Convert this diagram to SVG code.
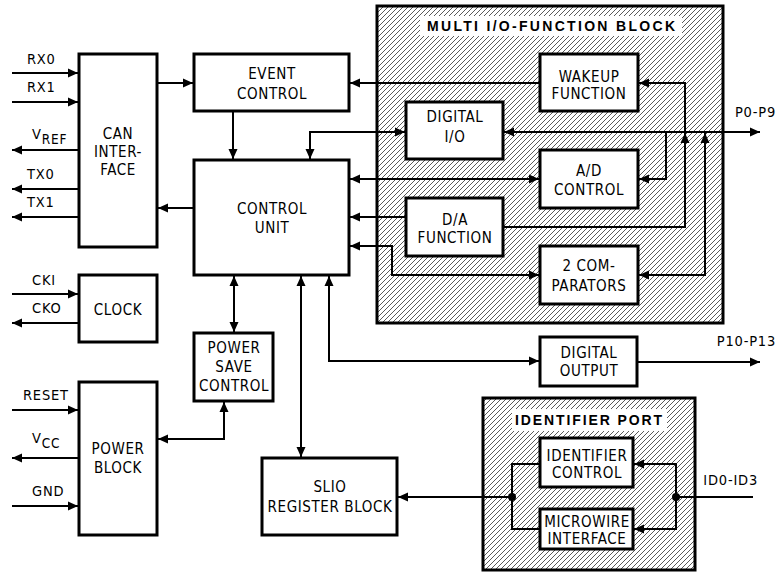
<svg xmlns="http://www.w3.org/2000/svg" width="778" height="574" viewBox="0 0 778 574">
<style>
.b{fill:#fff;stroke:#000;stroke-width:3}
.hb{fill:url(#hatch);stroke:#000;stroke-width:3}
.c{fill:none;stroke:#000;stroke-width:2}
.t{font-family:"Liberation Sans Narrow","DejaVu Sans Condensed","Liberation Sans",sans-serif;font-size:15px;text-anchor:middle;fill:#000;letter-spacing:0.6px}
.p{font-family:"Liberation Sans Narrow","DejaVu Sans Condensed","Liberation Sans",sans-serif;font-size:14.5px;fill:#000;letter-spacing:0.8px}
.ti{font-family:"Liberation Sans","Arial",sans-serif;font-size:14px;font-weight:bold;text-anchor:middle;fill:#000}
</style>
<defs>
<pattern id="hatch" width="5" height="5" patternUnits="userSpaceOnUse">
<rect width="5" height="5" fill="#fff"/>
<path d="M-1,1 L1,-1 M0,5 L5,0 M4,6 L6,4" stroke="#000" stroke-width="0.65"/>
</pattern>
<marker id="a" markerUnits="userSpaceOnUse" markerWidth="10" markerHeight="10" viewBox="0 0 10 10" refX="10" refY="5" orient="auto-start-reverse">
<path d="M0,0.5 L10,5 L0,9.5 z" fill="#000"/>
</marker>
</defs>

<g id="multi-io-block">
<rect class="hb" x="377" y="6" width="346" height="317"/>
<rect x="420" y="16" width="262" height="20" fill="#fff"/>
<text class="ti" x="551" y="31" textLength="248" lengthAdjust="spacing">MULTI I/O-FUNCTION BLOCK</text>
</g>
<g id="identifier-port">
<rect class="hb" x="483" y="398" width="212" height="172"/>
<rect x="512" y="409" width="155" height="22" fill="#fff"/>
<text class="ti" x="588.5" y="425" textLength="147" lengthAdjust="spacing">IDENTIFIER PORT</text>
</g>

<g id="connectors" class="c">
<path d="M12,73 H78" marker-end="url(#a)"/>
<path d="M12,102 H78" marker-end="url(#a)"/>
<path d="M79,150 H12" marker-end="url(#a)"/>
<path d="M79,189 H12" marker-end="url(#a)"/>
<path d="M79,217 H12" marker-end="url(#a)"/>
<path d="M157,83 H193" marker-end="url(#a)"/>
<path d="M194,208 H158" marker-end="url(#a)"/>
<path d="M233,111 V159" marker-end="url(#a)"/>
<path d="M540,83 H350" marker-end="url(#a)"/>
<path d="M310,159 V132 H405" marker-start="url(#a)" marker-end="url(#a)"/>
<path d="M350,179 H539" marker-start="url(#a)" marker-end="url(#a)"/>
<path d="M406,217 H350" marker-end="url(#a)"/>
<path d="M350,246 H392 V275 H539" marker-start="url(#a)" marker-end="url(#a)"/>
<path d="M504,132 H760" marker-start="url(#a)" marker-end="url(#a)"/>
<path d="M666,132 V179 H639" marker-end="url(#a)"/>
<path d="M503,227 H685 V83 H639" marker-end="url(#a)"/>
<path d="M685,150 V133" marker-end="url(#a)"/>
<path d="M639,275 H705 V133" marker-start="url(#a)" marker-end="url(#a)"/>
<path d="M234,276 V332" marker-start="url(#a)" marker-end="url(#a)"/>
<path d="M224,402 V439 H158" marker-start="url(#a)" marker-end="url(#a)"/>
<path d="M301,276 V457" marker-start="url(#a)" marker-end="url(#a)"/>
<path d="M329,276 V361 H539" marker-start="url(#a)" marker-end="url(#a)"/>
<path d="M637,362 H760" marker-end="url(#a)"/>
<path d="M12,294 H78" marker-end="url(#a)"/>
<path d="M79,323 H12" marker-end="url(#a)"/>
<path d="M12,410 H78" marker-end="url(#a)"/>
<path d="M79,458 H12" marker-end="url(#a)"/>
<path d="M12,506 H78" marker-end="url(#a)"/>
<path d="M540,464 H512 V529 H540"/>
<path d="M512,497 H398" marker-end="url(#a)"/>
<path d="M753,497 H676"/>
<path d="M676,497 V464 H634" marker-end="url(#a)"/>
<path d="M676,497 V529 H634" marker-end="url(#a)"/>
<circle cx="512" cy="497" r="4" fill="#000" stroke="none"/>
<circle cx="676" cy="497" r="4" fill="#000" stroke="none"/>
</g>

<g id="can-interface">
<rect class="b" x="79" y="54" width="78" height="193"/>
<text class="t" x="118" y="139">CAN</text>
<text class="t" x="118" y="157">INTER-</text>
<text class="t" x="118" y="175">FACE</text>
</g>
<g id="event-control">
<rect class="b" x="194" y="54" width="155" height="57"/>
<text class="t" x="272" y="79">EVENT</text>
<text class="t" x="272" y="99">CONTROL</text>
</g>
<g id="control-unit">
<rect class="b" x="194" y="160" width="155" height="115"/>
<text class="t" x="272" y="214">CONTROL</text>
<text class="t" x="272" y="233">UNIT</text>
</g>
<g id="clock">
<rect class="b" x="79" y="275" width="78" height="67"/>
<text class="t" x="118" y="315">CLOCK</text>
</g>
<g id="power-save-control">
<rect class="b" x="194" y="333" width="79" height="68"/>
<text class="t" x="234" y="353">POWER</text>
<text class="t" x="234" y="372">SAVE</text>
<text class="t" x="234" y="391">CONTROL</text>
</g>
<g id="power-block">
<rect class="b" x="79" y="382" width="78" height="153"/>
<text class="t" x="118" y="454">POWER</text>
<text class="t" x="118" y="473">BLOCK</text>
</g>
<g id="slio-register-block">
<rect class="b" x="262" y="458" width="135" height="77"/>
<text class="t" x="330" y="492">SLIO</text>
<text class="t" x="330" y="512">REGISTER BLOCK</text>
</g>
<g id="wakeup-function">
<rect class="b" x="540" y="54" width="98" height="57"/>
<text class="t" x="589" y="82">WAKEUP</text>
<text class="t" x="589" y="99">FUNCTION</text>
</g>
<g id="digital-io">
<rect class="b" x="406" y="102" width="97" height="57"/>
<text class="t" x="455" y="122">DIGITAL</text>
<text class="t" x="455" y="142">I/O</text>
</g>
<g id="ad-control">
<rect class="b" x="540" y="150" width="98" height="58"/>
<text class="t" x="589" y="176">A/D</text>
<text class="t" x="589" y="195">CONTROL</text>
</g>
<g id="da-function">
<rect class="b" x="406" y="198" width="97" height="58"/>
<text class="t" x="455" y="225">D/A</text>
<text class="t" x="455" y="243">FUNCTION</text>
</g>
<g id="comparators">
<rect class="b" x="540" y="246" width="98" height="58"/>
<text class="t" x="589" y="271">2 COM-</text>
<text class="t" x="589" y="291">PARATORS</text>
</g>
<g id="digital-output">
<rect class="b" x="540" y="337" width="97" height="49"/>
<text class="t" x="589" y="358">DIGITAL</text>
<text class="t" x="589" y="376">OUTPUT</text>
</g>
<g id="identifier-control">
<rect class="b" x="540" y="438" width="93" height="49"/>
<text class="t" x="587" y="461">IDENTIFIER</text>
<text class="t" x="587" y="478">CONTROL</text>
</g>
<g id="microwire-interface">
<rect class="b" x="540" y="509" width="93" height="40"/>
<text class="t" x="587" y="527">MICROWIRE</text>
<text class="t" x="587" y="544">INTERFACE</text>
</g>

<g id="pin-labels">
<text class="p" x="27" y="64">RX0</text>
<text class="p" x="27" y="92">RX1</text>
<text class="p" x="32" y="139">V<tspan dy="5" font-size="13.5">REF</tspan></text>
<text class="p" x="27" y="179">TX0</text>
<text class="p" x="27" y="207">TX1</text>
<text class="p" x="32" y="285">CKI</text>
<text class="p" x="32" y="313">CKO</text>
<text class="p" x="23" y="400">RESET</text>
<text class="p" x="32" y="443">V<tspan dy="5" font-size="13.5">CC</tspan></text>
<text class="p" x="32" y="496">GND</text>
<text class="p" x="776" y="117" text-anchor="end">P0-P9</text>
<text class="p" x="776" y="346" text-anchor="end">P10-P13</text>
<text class="p" x="758" y="485" text-anchor="end">ID0-ID3</text>
</g>
</svg>
